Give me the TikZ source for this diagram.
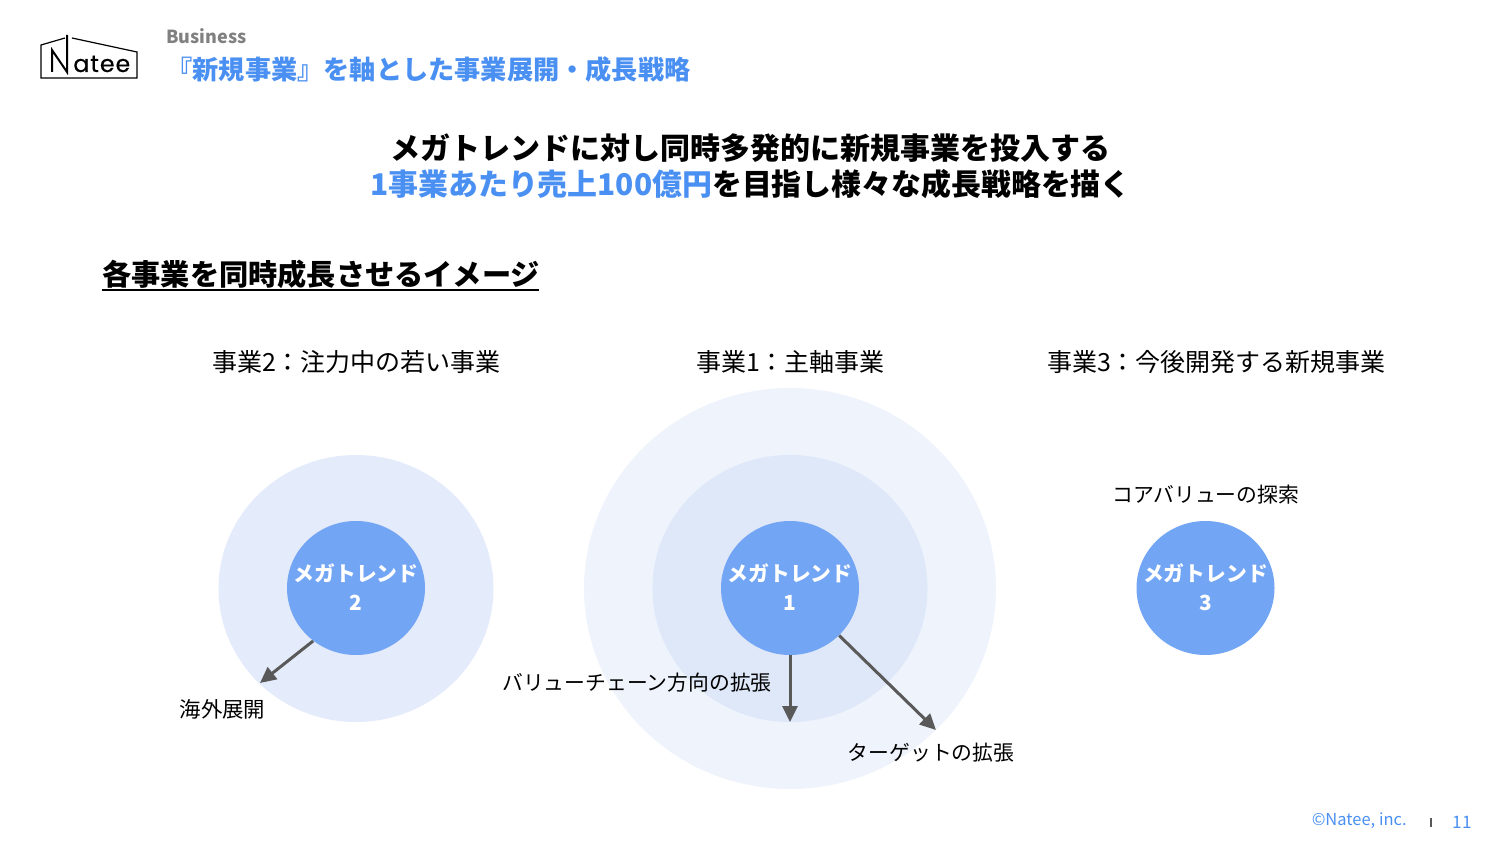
\documentclass[tikz,border=0pt]{standalone}
\usepackage{fontspec}
\setmainfont{Noto Sans CJK JP}
\newfontfamily\logofont[FakeBold=0.6]{Poppins}
\usetikzlibrary{arrows.meta, positioning, shapes.geometric}
\definecolor{nateeblue}{HTML}{4A90F2}
\definecolor{circblue}{HTML}{73A5F5}
\definecolor{ringmid}{HTML}{DEE8F9}
\definecolor{ringout}{HTML}{EEF3FC}
\definecolor{ringtwo}{HTML}{E4EBFA}
\definecolor{arrowgray}{HTML}{595959}
\tikzset{
	px/.style={x=0.5pt, y=-0.5pt},
	ring/.style={ellipse, inner sep=0pt},
	bigring/.style={ring, minimum width=137.5pt, minimum height=133.5pt},
	trend/.style={ring, fill=circblue, minimum width=69pt, minimum height=67pt},
	trendtext/.style={inner sep=0pt, text=white, align=center, font=\fontsize{10.4}{14.5}\selectfont\bfseries, yshift=.5pt},
	lbl/.style={inner sep=0pt, font=\fontsize{10.4}{13}\selectfont},
	head/.style={inner sep=0pt, font=\fontsize{12.5}{16}\selectfont},
	growth/.style={-{Triangle[length=8pt, width=7.5pt]}, arrowgray, line width=1.5pt},
}
\begin{document}
\begin{tikzpicture}[px]
	\useasboundingbox (0, 0) rectangle (1500, 844);
	% logo
	\draw[line width=.6pt] (65, 38) -- (41, 45) -- (41, 78) -- (137, 78) -- (137, 52) -- (72, 38);
	\draw[line width=1pt] (52, 72) -- (52, 50) -- (67, 72) -- (67, 35);
	\node[inner sep=0pt, anchor=base west, font=\logofont\fontsize{11.8}{12}\selectfont] (logo) at (73, 72) {a\kern.5pt t\kern.5pt e\kern.5pt e};
	% title
	\node[inner sep=0pt, anchor=west, text=gray, font=\fontsize{9}{12}\selectfont\bfseries] (section) at (166, 36.5) {Business};
	\node[inner sep=0pt, anchor=west, text=nateeblue, font=\fontsize{13.1}{16}\selectfont\bfseries] (title) at (166, 69.5) {『新規事業』を軸とした事業展開・成長戦略};
	\node[inner sep=0pt, font=\fontsize{15}{18}\selectfont\bfseries] (lead1) at (750, 148) {メガトレンドに対し同時多発的に新規事業を投入する};
	\node[inner sep=0pt, font=\fontsize{14.95}{18}\selectfont\bfseries] (lead2) at (750.5, 184) {\textcolor{nateeblue}{1事業あたり売上100億円}を目指し様々な成長戦略を描く};
	\node[inner sep=0pt, anchor=west, font=\fontsize{14.6}{18}\selectfont\bfseries] (imagehead) at (102, 274) {各事業を同時成長させるイメージ};
	\draw[line width=1pt] (102, 290) -- (539, 290);
	% column heads
	\node[head] (head2) at (356.5, 362) {事業2：注力中の若い事業};
	\node[head] (head1) at (790.5, 362) {事業1：主軸事業};
	\node[head] (head3) at (1216.5, 362) {事業3：今後開発する新規事業};
	% rings
	\node[ring, fill=ringout, minimum width=206pt, minimum height=200.5pt] (outer1) at (790, 588.5) {};
	\node[bigring, fill=ringmid] (mid1) at (790, 588.5) {};
	\node[bigring, fill=ringtwo] (outer2) at (356, 588.5) {};
	\node[trend] (trend2) at (356, 588) {};
	\node[trend] (trend1) at (790, 588) {};
	\node[trend] (trend3) at (1205.5, 588) {};
	\node[trendtext] (text2) at (trend2) {メガトレンド\\2};
	\node[trendtext] (text1) at (trend1) {メガトレンド\\1};
	\node[trendtext] (text3) at (trend3) {メガトレンド\\3};
	% arrows
	\coordinate (end2) at (260, 683);
	\coordinate (end1a) at (790, 722);
	\coordinate (end1b) at (936, 730);
	\draw[growth] (trend2.231) -- (end2);
	\draw[growth] (trend1.south) -- (end1a);
	\draw[growth] (trend1.-44) -- (end1b);
	% labels
	\node[lbl, font=\fontsize{10.7}{13}\selectfont] (overseas) at (222.5, 709.5) {海外展開};
	\node[lbl] (chain) at (637, 682.5) {バリューチェーン方向の拡張};
	\node[lbl] (target) at (931, 752.5) {ターゲットの拡張};
	\node[lbl] (core) at (1206, 494.5) {コアバリューの探索};
	% footer
	\node[inner sep=0pt, anchor=east, text=nateeblue, font=\fontsize{8.25}{10}\selectfont] (copy) at (1407, 821) {©Natee, inc.};
	\node[inner sep=0pt, text=nateeblue, font=\fontsize{8.6}{10}\selectfont] (page) at (1462, 822) {11};
	\draw[arrowgray, line width=.8pt] (1431, 818) -- (1431, 827);
\end{tikzpicture}
\end{document}
